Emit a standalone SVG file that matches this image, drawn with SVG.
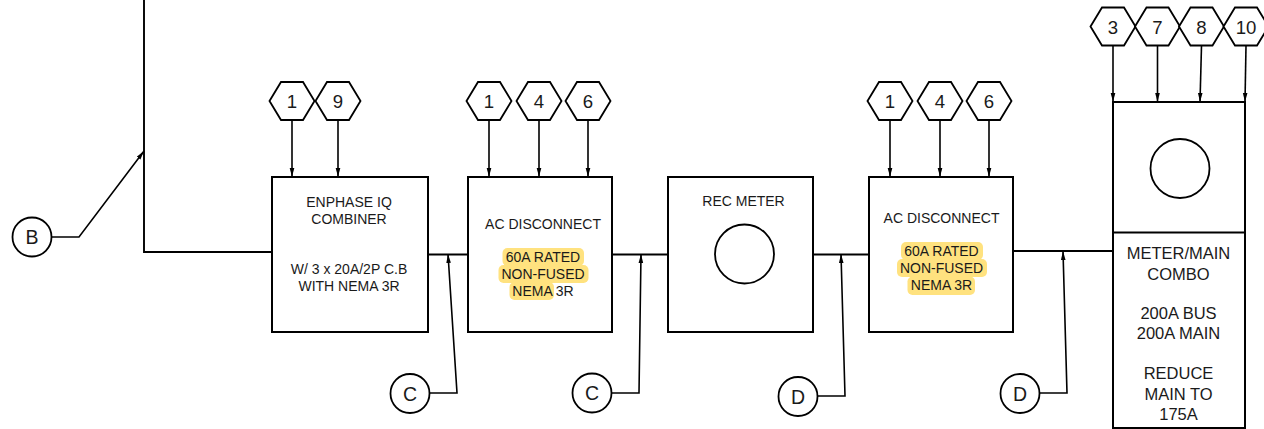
<svg xmlns="http://www.w3.org/2000/svg" width="1264" height="429" viewBox="0 0 1264 429">
<defs>
<marker id="arr" markerUnits="userSpaceOnUse" markerWidth="10" markerHeight="6" refX="9" refY="2.5" orient="auto"><path d="M0,0.2 L9,2.5 L0,4.8 Z" fill="#000"/></marker>
<polygon id="hex" points="-22.5,0 -11,-19 11,-19 22.5,0 11,19 -11,19" fill="#fff" stroke="#000" stroke-width="1.8"/>
</defs>
<style>
text{font-family:"Liberation Sans",Arial,sans-serif;fill:#1a1a1a;text-anchor:middle}
.m{font-size:14px}.l{font-size:16.5px}.n{font-size:18.6px}.k{font-size:19.5px}
.box{fill:#fff;stroke:#000;stroke-width:2}
.w{fill:none;stroke:#000;stroke-width:1.9}
.a{fill:none;stroke:#000;stroke-width:1.6;marker-end:url(#arr)}
.c{fill:#fff;stroke:#000;stroke-width:1.8}
.hl{fill:#ffe27f}
</style>
<g id="connectors">
<path class="w" d="M144,0 V252 H272"/>
<path class="w" d="M428,254.500 H468"/>
<path class="w" d="M612,254.500 H668"/>
<path class="w" d="M813,254.500 H869"/>
<path class="w" d="M1013,251 H1113"/>
<path class="a" d="M52,237 H79 L144,151"/>
<path class="a" d="M430,393 H457 L448,254"/>
<path class="a" d="M612,393 H639 L641,254"/>
<path class="a" d="M818,396 H845 L841,254"/>
<path class="a" d="M1040,393 H1067 L1063,251"/>
<path class="a" d="M292,120 V177"/>
<path class="a" d="M338,120 V177"/>
<path class="a" d="M489,120 V177"/>
<path class="a" d="M539,120 V177"/>
<path class="a" d="M588,120 V177"/>
<path class="a" d="M890,120 V177"/>
<path class="a" d="M940,120 V177"/>
<path class="a" d="M989,120 V177"/>
<path class="a" d="M1113,46 V102"/>
<path class="a" d="M1157.500,46 V102"/>
<path class="a" d="M1201.500,46 L1200,102"/>
<path class="a" d="M1246,46 L1245,102"/>
</g>
<g id="combiner">
<rect class="box" x="272" y="177" width="156" height="155"/>
<text class="m" x="349" y="206.500">ENPHASE IQ</text>
<text class="m" x="349" y="223.500">COMBINER</text>
<text class="m" x="349" y="273.500">W/ 3 x 20A/2P C.B</text>
<text class="m" x="349" y="290.500">WITH NEMA 3R</text>
</g>
<g id="disconnect-1">
<rect class="box" x="468" y="177" width="144" height="155"/>
<rect class="hl" x="502.500" y="248" width="81.500" height="18" rx="5"/>
<rect class="hl" x="498.500" y="265" width="90" height="18" rx="5"/>
<rect class="hl" x="509.500" y="282" width="44.500" height="18" rx="5"/>
<text class="m" x="543" y="228.500">AC DISCONNECT</text>
<text class="m" x="543" y="262">60A RATED</text>
<text class="m" x="543" y="279">NON-FUSED</text>
<text class="m" x="543" y="296">NEMA 3R</text>
</g>
<g id="rec-meter">
<rect class="box" x="668" y="177" width="145" height="155"/>
<text class="m" x="743.500" y="206">REC METER</text>
<circle class="c" cx="744.500" cy="254" r="29.500"/>
</g>
<g id="disconnect-2">
<rect class="box" x="869" y="177" width="144" height="155"/>
<rect class="hl" x="901" y="242" width="82" height="18" rx="5"/>
<rect class="hl" x="897" y="259" width="90" height="18" rx="5"/>
<rect class="hl" x="907.500" y="276.500" width="67.500" height="18.500" rx="5"/>
<text class="m" x="941.500" y="222.500">AC DISCONNECT</text>
<text class="m" x="941.500" y="256">60A RATED</text>
<text class="m" x="941.500" y="273">NON-FUSED</text>
<text class="m" x="941.500" y="290">NEMA 3R</text>
</g>
<g id="meter-main">
<rect class="box" x="1113" y="102" width="132" height="326"/>
<line class="w" x1="1113" y1="232.500" x2="1245" y2="232.500"/>
<circle class="c" cx="1180" cy="168.500" r="29.500"/>
<text class="l" x="1178.500" y="259">METER/MAIN</text>
<text class="l" x="1178.500" y="279.500">COMBO</text>
<text class="l" x="1178.500" y="319">200A BUS</text>
<text class="l" x="1178.500" y="339">200A MAIN</text>
<text class="l" x="1178.500" y="379">REDUCE</text>
<text class="l" x="1178.500" y="399.500">MAIN TO</text>
<text class="l" x="1178.500" y="420">175A</text>
</g>
<g id="hex-combiner-1"><use href="#hex" x="292" y="101"/><text class="n" x="292" y="107.500">1</text></g>
<g id="hex-combiner-9"><use href="#hex" x="338" y="101"/><text class="n" x="338" y="107.500">9</text></g>
<g id="hex-disc1-1"><use href="#hex" x="489" y="101"/><text class="n" x="489" y="107.500">1</text></g>
<g id="hex-disc1-4"><use href="#hex" x="539" y="101"/><text class="n" x="539" y="107.500">4</text></g>
<g id="hex-disc1-6"><use href="#hex" x="588" y="101"/><text class="n" x="588" y="107.500">6</text></g>
<g id="hex-disc2-1"><use href="#hex" x="890" y="101"/><text class="n" x="890" y="107.500">1</text></g>
<g id="hex-disc2-4"><use href="#hex" x="940" y="101"/><text class="n" x="940" y="107.500">4</text></g>
<g id="hex-disc2-6"><use href="#hex" x="989" y="101"/><text class="n" x="989" y="107.500">6</text></g>
<g id="hex-main-3"><use href="#hex" x="1113" y="26.500"/><text class="n" x="1113" y="33.500">3</text></g>
<g id="hex-main-7"><use href="#hex" x="1157.500" y="26.500"/><text class="n" x="1157.500" y="33.500">7</text></g>
<g id="hex-main-8"><use href="#hex" x="1201.500" y="26.500"/><text class="n" x="1201.500" y="33.500">8</text></g>
<g id="hex-main-10"><use href="#hex" x="1246" y="26.500"/><text class="n" x="1246" y="33.500">10</text></g>
<g id="tag-b"><circle class="c" cx="32" cy="237" r="19.500"/><text class="k" x="32" y="244">B</text></g>
<g id="tag-c1"><circle class="c" cx="410" cy="393.500" r="19.500"/><text class="k" x="410" y="400.500">C</text></g>
<g id="tag-c2"><circle class="c" cx="592" cy="393" r="19.500"/><text class="k" x="592" y="399.500">C</text></g>
<g id="tag-d1"><circle class="c" cx="798" cy="396.500" r="19.500"/><text class="k" x="798" y="403.500">D</text></g>
<g id="tag-d2"><circle class="c" cx="1020" cy="393.500" r="19.500"/><text class="k" x="1020" y="400.500">D</text></g>
</svg>
